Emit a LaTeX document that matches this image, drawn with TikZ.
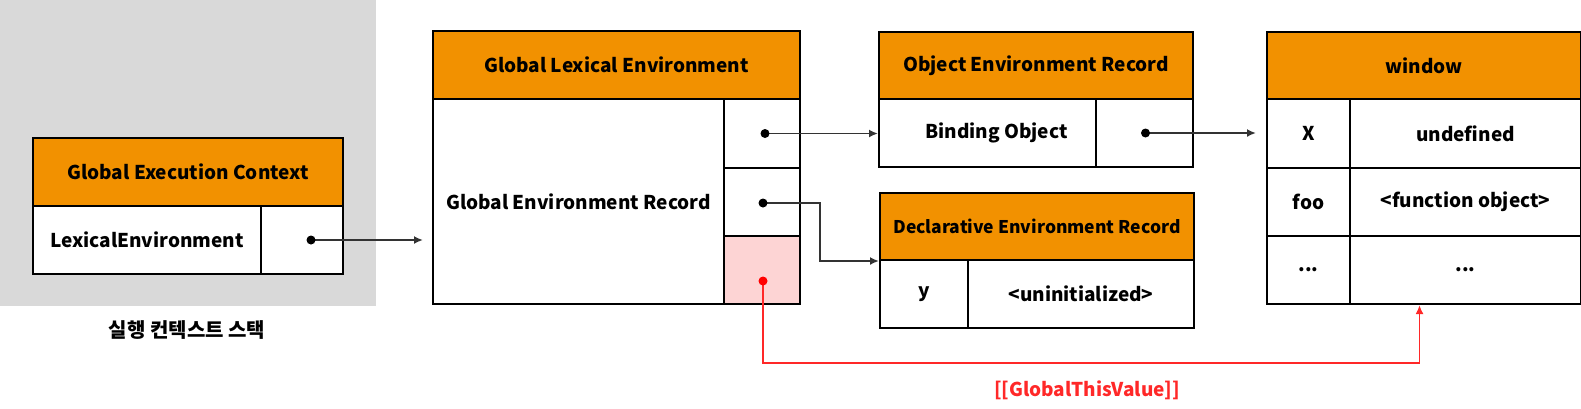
\documentclass[tikz,border=0pt]{standalone}
\usepackage{fontspec}
\setmainfont{Noto Sans CJK KR}
\newfontfamily\korfont{Noto Sans CJK KR}
\usetikzlibrary{arrows.meta}
\usetikzlibrary{calc}

\definecolor{hdrorange}{RGB}{242,145,0}
\definecolor{stackgray}{RGB}{217,217,217}
\definecolor{thispink}{RGB}{253,212,212}
\definecolor{linegray}{RGB}{51,51,51}
\definecolor{thisred}{RGB}{255,40,40}

\tikzset{
  wh/.style 2 args={minimum width=#1, minimum height=#2},
  box/.style={draw, line width=2pt, inner sep=0pt, anchor=north west,
    font=\fontsize{19}{22}\selectfont\bfseries},
  hdr/.style={box, fill=hdrorange},
  cell/.style={box, fill=white},
  ptr/.style={draw=linegray, line width=1.8pt, -{Latex[length=9pt,width=8pt]}},
  thisptr/.style={draw=thisred, line width=1.8pt, -{Latex[length=9pt,width=8pt]}},
}

\begin{document}
\begin{tikzpicture}[x=1pt,y=-1pt]
  \useasboundingbox (0,0) rectangle (1581,408);

  % execution context stack
  \fill[stackgray] (0,0) rectangle (376,306);
  \node[hdr, wh={310pt}{68pt}] (gec) at (32,137) {Global Execution Context};
  \node[cell, wh={228pt}{68pt}] (geclex) at (32,205) {LexicalEnvironment};
  \node[cell, wh={82pt}{68pt}] (geclink) at (260,205) {};
  \node[font=\korfont\fontsize{20}{22}\selectfont\bfseries] (stacklbl) at (187,330) {실행 컨텍스트 스택};

  % global lexical environment
  \node[hdr, wh={367pt}{68pt}] (gle) at (432,30) {Global Lexical Environment};
  \node[cell, wh={291pt}{205pt}] (gerec) at (432,98) {Global Environment Record};
  \node[cell, wh={76pt}{69pt}] (objlink) at (723,98) {};
  \node[cell, wh={76pt}{68pt}] (declink) at (723,167) {};
  \node[cell, fill=thispink, wh={76pt}{68pt}] (thislink) at (723,235) {};

  % object environment record
  \node[hdr, wh={314pt}{67pt}] (oer) at (878,31) {Object Environment Record};
  \node[cell, wh={217pt}{68pt}] (oerbind) at (878,98) {\hspace{18pt}Binding Object};
  \node[cell, wh={97pt}{68pt}] (oerlink) at (1095,98) {};

  % declarative environment record
  \node[hdr, wh={314pt}{67pt}, font=\fontsize{17.5}{20}\selectfont\bfseries] (der) at (879,192) {Declarative Environment Record};
  \node[cell, wh={88pt}{68pt}] (dery) at (879,259) {y};
  \node[cell, wh={226pt}{68pt}] (deryval) at (967,259) {<uninitialized>};

  % window
  \node[hdr, wh={314pt}{67pt}] (win) at (1266,31) {window};
  \node[cell, wh={83pt}{69pt}] (winx) at (1266,98) {X};
  \node[cell, wh={231pt}{69pt}] (winxval) at (1349,98) {undefined};
  \node[cell, wh={83pt}{68pt}] (winfoo) at (1266,167) {foo};
  \node[cell, wh={231pt}{68pt}] (winfooval) at (1349,167) {<function object>};
  \node[cell, wh={83pt}{68pt}] (winetc) at (1266,235) {...};
  \node[cell, wh={231pt}{68pt}] (winetcval) at (1349,235) {...};

  % pointers
  \coordinate (gecdot) at ([xshift=9pt]geclink.center);
  \coordinate (objdot) at ([xshift=3pt]objlink.center);
  \coordinate (decdot) at ([xshift=1pt,yshift=-1pt]declink.center);
  \coordinate (thisdot) at ([xshift=1pt,yshift=-11pt]thislink.center);
  \coordinate (oerdot) at ([xshift=1pt]oerlink.center);
  \coordinate (thisend) at ([xshift=-46pt]winetcval.south);

  \draw[ptr, shorten >=9pt] (gecdot) -- (gecdot -| gerec.west);
  \draw[ptr] (objdot) -- (objdot -| oerbind.west);
  \draw[ptr] (decdot) -- ++(57,0) |- (der.south west);
  \draw[ptr, shorten >=10pt] (oerdot) -- (oerdot -| winx.west);
  \draw[thisptr] (thisdot) -- ++(0,82) -| (thisend);

  \foreach \d in {gecdot, objdot, decdot, oerdot}
    \fill (\d) circle (4.5pt);
  \fill[red] (thisdot) circle (4.5pt);

  \node[text=thisred, font=\fontsize{19}{22}\selectfont\bfseries] (thislbl) at (1087,390) {[[GlobalThisValue]]};
\end{tikzpicture}
\end{document}
